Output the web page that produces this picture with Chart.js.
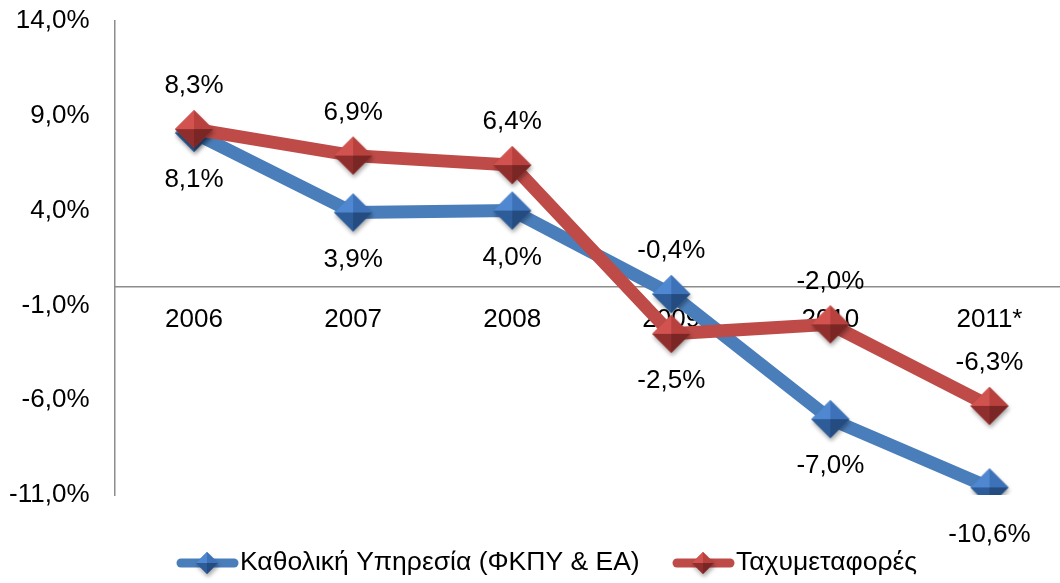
<!DOCTYPE html>
<html>
<head>
<meta charset="utf-8">
<script src="https://cdn.jsdelivr.net/npm/chart.js@4/dist/chart.umd.min.js"></script>
<style>
  html, body { margin: 0; padding: 0; background: #fff; overflow: hidden; width: 1060px; height: 583px; }
  #wrap { position: absolute; left: 0; top: -11px; width: 1101px; height: 594px; }
</style>
</head>
<body>
<div id="wrap"><canvas id="c"></canvas></div>
<script>
// ---- data ----
const categories = ['2006', '2007', '2008', '2009', '2010', '2011*'];
const seriesNames = ['Καθολική Υπηρεσία (ΦΚΠΥ & ΕΑ)', 'Ταχυμεταφορές'];
const universalService = [8.1, 3.9, 4.0, -0.4, -7.0, -10.6];
const courier = [8.3, 6.9, 6.4, -2.5, -2.0, -6.3];
const universalLabelSide = ['below', 'below', 'below', 'above', 'below', 'below'];
const courierLabelSide = ['above', 'above', 'above', 'below', 'above', 'above'];
const yMin = -11, yMax = 14, yStep = 5;

const FONT = '"Liberation Sans", Arial, sans-serif';
const BLUE = '#4A7EBB';
const RED = '#BE4B48';

function fmt(v) { return v.toFixed(1).replace('.', ',') + '%'; }

function makeDiamond(shades, r) {
  const pad = 7;
  const s = Math.ceil(2 * r + pad * 2);
  const cv = document.createElement('canvas');
  cv.width = s; cv.height = s;
  const g = cv.getContext('2d');
  const c = s / 2;
  g.save();
  g.shadowColor = 'rgba(0,0,0,0.35)';
  g.shadowBlur = 4;
  g.shadowOffsetX = 1;
  g.shadowOffsetY = 3;
  g.beginPath();
  g.moveTo(c, c - r); g.lineTo(c + r, c); g.lineTo(c, c + r); g.lineTo(c - r, c); g.closePath();
  g.fillStyle = shades[1];
  g.fill();
  g.restore();
  const T = [c, c - r], R = [c + r, c], B = [c, c + r], L = [c - r, c], C = [c, c];
  const facets = [[T, L, C, shades[0]], [T, R, C, shades[1]], [B, L, C, shades[2]], [B, R, C, shades[3]]];
  facets.forEach(f => {
    g.beginPath();
    g.moveTo(f[0][0], f[0][1]); g.lineTo(f[1][0], f[1][1]); g.lineTo(f[2][0], f[2][1]); g.closePath();
    g.fillStyle = f[3];
    g.fill();
  });
  return cv;
}

const blueShades = ['#4F88D0', '#3D72B8', '#2D5C98', '#244C80'];
const redShades = ['#D2524F', '#B8403D', '#8F2E2C', '#7A2624'];
const blueDiamond = makeDiamond(blueShades, 19);
const redDiamond = makeDiamond(redShades, 19);
const blueDiamondSmall = makeDiamond(blueShades, 11);
const redDiamondSmall = makeDiamond(redShades, 11);

const labelSides = [universalLabelSide, courierLabelSide];

const dataLabelPlugin = {
  id: 'dataLabels',
  afterDatasetsDraw(chart) {
    const ctx = chart.ctx;
    ctx.save();
    ctx.font = '26px ' + FONT;
    ctx.fillStyle = '#000';
    ctx.textAlign = 'center';
    ctx.textBaseline = 'middle';
    chart.data.datasets.forEach((ds, di) => {
      const meta = chart.getDatasetMeta(di);
      meta.data.forEach((pt, i) => {
        const side = labelSides[di][i];
        const dy = side === 'above' ? -43 : 47;
        ctx.fillText(fmt(ds.data[i]), pt.x, pt.y + dy);
      });
    });
    ctx.restore();
  }
};

const legendPlugin = {
  id: 'customLegend',
  afterDraw(chart) {
    const ctx = chart.ctx;
    ctx.save();
    ctx.font = '26.5px ' + FONT;
    ctx.textBaseline = 'middle';
    const y = 574;
    const items = [
      { x: 177, color: BLUE, img: blueDiamondSmall, text: seriesNames[0] },
      { x: 673, color: RED, img: redDiamondSmall, text: seriesNames[1] }
    ];
    items.forEach(it => {
      ctx.strokeStyle = it.color;
      ctx.lineWidth = 9;
      ctx.lineCap = 'round';
      ctx.beginPath();
      ctx.moveTo(it.x + 4, y);
      ctx.lineTo(it.x + 57, y);
      ctx.stroke();
      ctx.drawImage(it.img, it.x + 30 - it.img.width / 2, y - it.img.height / 2);
      ctx.fillStyle = '#000';
      ctx.textAlign = 'left';
      ctx.fillText(it.text, it.x + 63, y);
    });
    ctx.restore();
  }
};

new Chart(document.getElementById('c'), {
  type: 'line',
  data: {
    labels: categories,
    datasets: [
      {
        label: seriesNames[0],
        data: universalService,
        borderColor: BLUE,
        backgroundColor: BLUE,
        borderWidth: 13,
        pointStyle: blueDiamond,
        pointRadius: 19,
        pointHoverRadius: 19,
        tension: 0,
        order: 1
      },
      {
        label: seriesNames[1],
        data: courier,
        borderColor: RED,
        backgroundColor: RED,
        borderWidth: 13,
        pointStyle: redDiamond,
        pointRadius: 19,
        pointHoverRadius: 19,
        tension: 0,
        order: 0
      }
    ]
  },
  options: {
    responsive: true,
    maintainAspectRatio: false,
    animation: false,
    layout: { padding: { left: 10, top: 9, right: 0, bottom: 88 } },
    plugins: { legend: { display: false }, tooltip: { enabled: false } },
    scales: {
      x: {
        type: 'category',
        offset: true,
        position: { y: 0 },
        grid: { display: true, drawOnChartArea: false, drawTicks: false },
        border: { display: true, color: '#8C8C8C', width: 1.5 },
        ticks: { display: false }
      },
      x2: {
        type: 'category',
        offset: true,
        position: { y: 0 },
        z: 2,
        grid: { display: false, drawTicks: false },
        border: { display: false },
        ticks: { color: '#000', font: { family: FONT, size: 26 }, padding: 18, maxRotation: 0, autoSkip: false }
      },
      y: {
        type: 'linear',
        min: yMin,
        max: yMax,
        afterFit(scale) { scale.width = 104.5; scale.paddingTop = 0; scale.paddingBottom = 0; },
        grid: { display: true, drawOnChartArea: false, drawTicks: true, tickLength: 25, tickColor: 'rgba(0,0,0,0)' },
        border: { display: true, color: '#8C8C8C', width: 1.5 },
        ticks: {
          stepSize: yStep,
          padding: 0,
          color: '#000',
          font: { family: FONT, size: 26 },
          callback: (v) => fmt(v)
        }
      }
    }
  },
  plugins: [dataLabelPlugin, legendPlugin]
});
</script>
</body>
</html>
